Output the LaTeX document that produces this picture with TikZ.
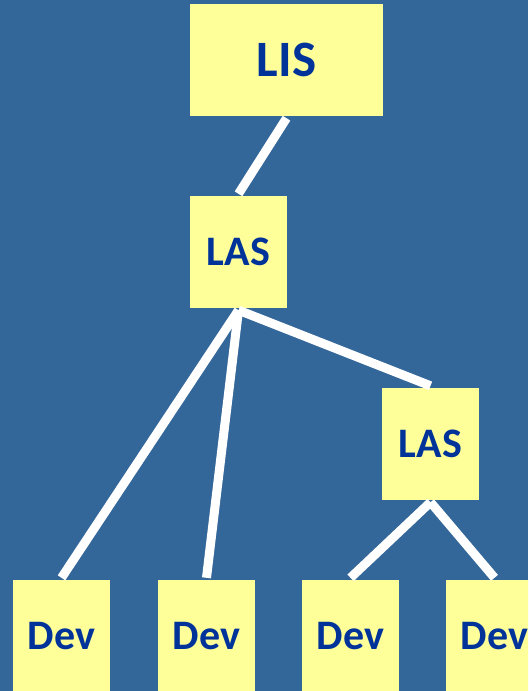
\documentclass[tikz,border=0pt]{standalone}
\usepackage{fontspec}
\setmainfont{Carlito}
\usetikzlibrary{positioning}
\definecolor{SlideBlue}{HTML}{336699}
\definecolor{NoteYellow}{HTML}{FFFF99}
\definecolor{InkBlue}{HTML}{003399}

\begin{document}
\begin{tikzpicture}[x=1pt, y=-1pt,
    box/.style={fill=NoteYellow, text=InkBlue, font=\bfseries\fontsize{42}{44}\selectfont,
        minimum width=97pt, minimum height=112pt, inner sep=0pt},
    link/.style={white, line width=9pt, line cap=butt}]
    % --- background ---
    \fill[SlideBlue] (0,0) rectangle (528,691);
    \useasboundingbox (0,0) rectangle (528,691);
    \clip (0,0) rectangle (528,691);

    % --- nodes ---
    \node[box, minimum width=193pt, font=\bfseries\fontsize{51}{53}\selectfont] (LIS) at (286.5,60) {LIS};
    \node[box] (LASa) at (238.5,252) {LAS};
    \node[box] (LASb) at (430.5,444) {LAS};
    \node[box] (DevA) at (61.5,636) {Dev};
    \node[box] (DevB) at (206.5,636) {Dev};
    \node[box] (DevC) at (350.5,636) {Dev};
    \node[box] (DevD) at (494.5,636) {Dev};

    % --- links ---
    \draw[link] ([yshift=-2pt]LIS.south) -- ([yshift=2pt]LASa.north);
    \draw[link] ([yshift=-2pt]LASa.south) -- ([yshift=2pt]DevA.north);
    \draw[link] ([yshift=-2pt]LASa.south) -- ([yshift=2pt]DevB.north);
    \draw[link] ([yshift=-2pt]LASa.south) -- ([yshift=2pt]LASb.north);
    \draw[link] ([yshift=-2pt]LASb.south) -- ([yshift=2pt]DevC.north);
    \draw[link] ([yshift=-2pt]LASb.south) -- ([yshift=2pt]DevD.north);
\end{tikzpicture}
\end{document}
